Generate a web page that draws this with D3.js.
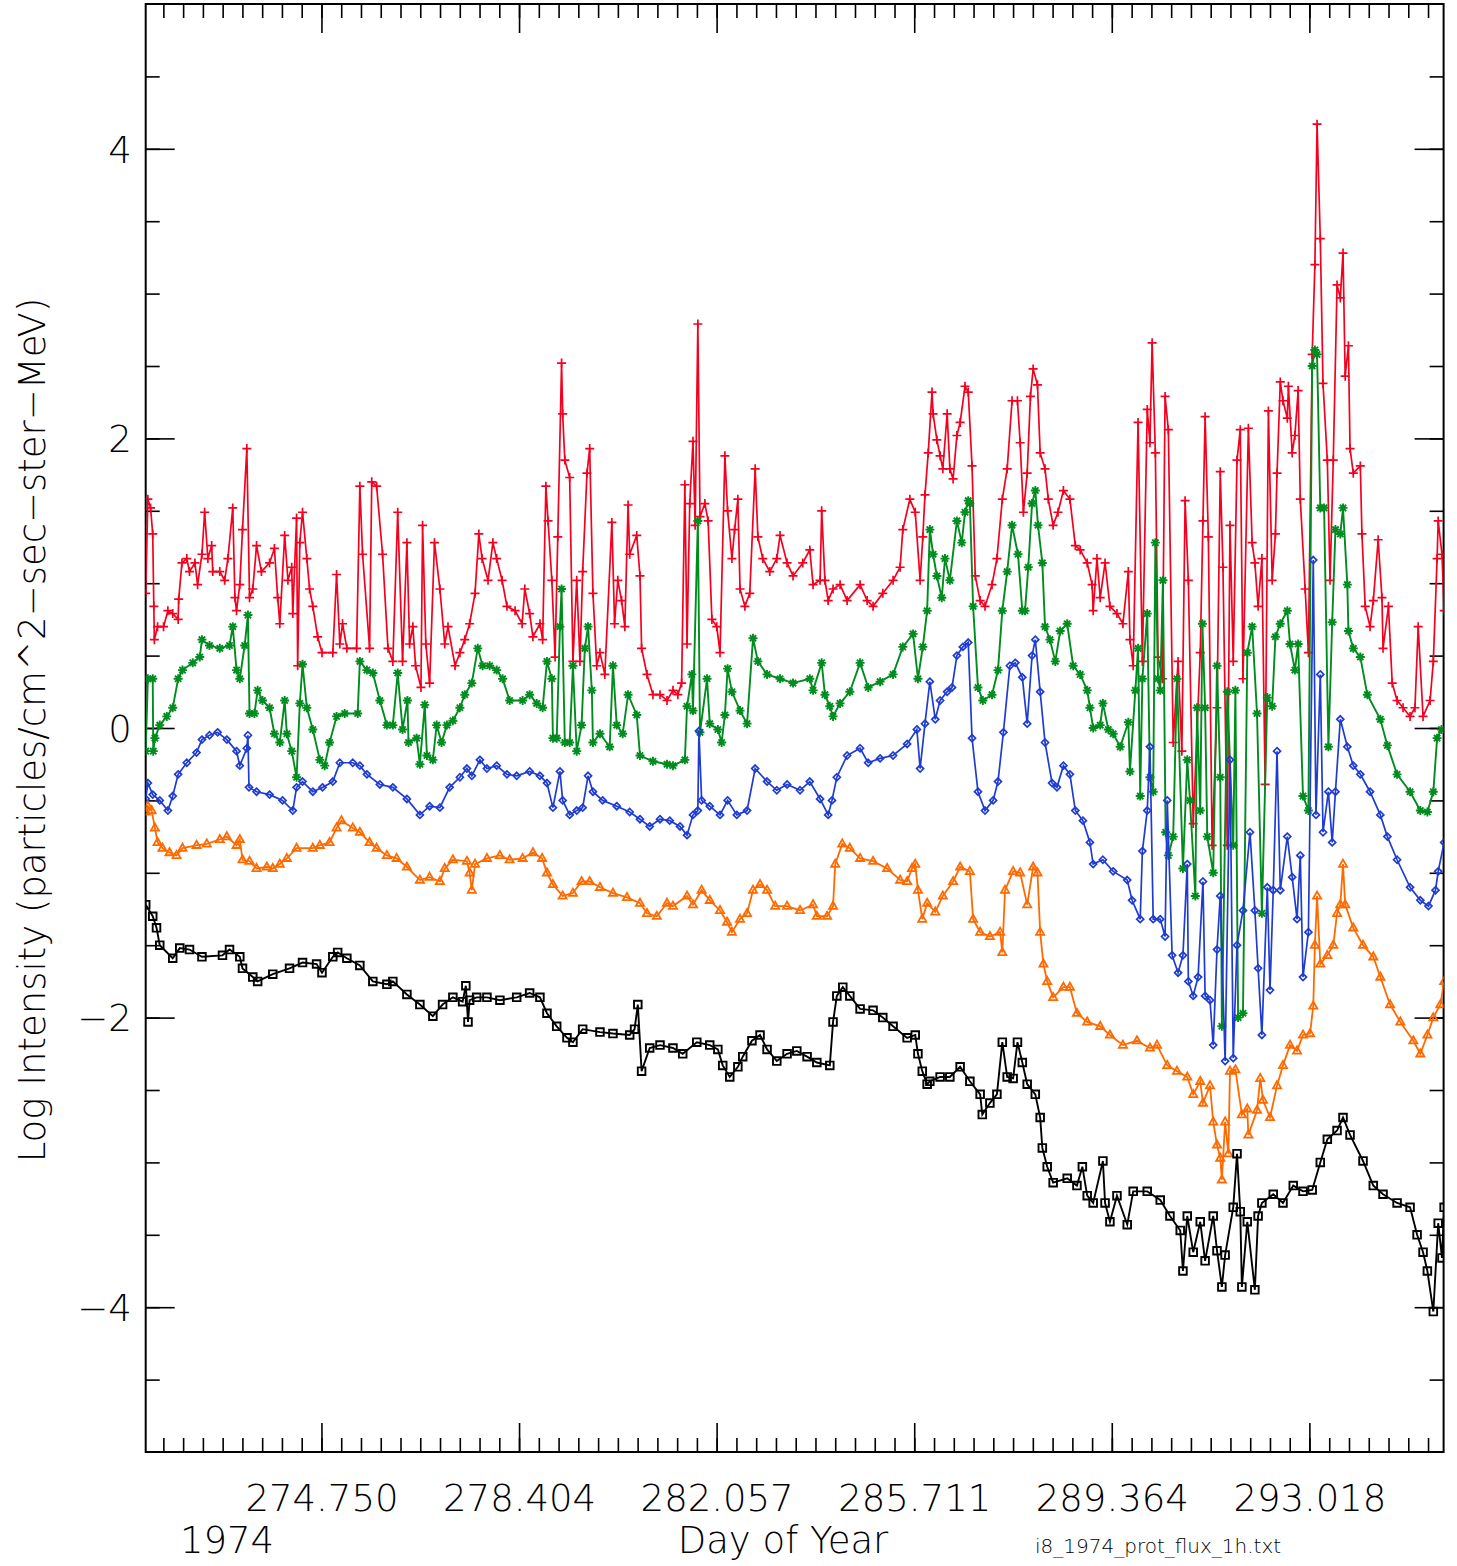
<!DOCTYPE html>
<html lang="en">
<head>
<meta charset="UTF-8">
<title>i8_1974_prot_flux_1h</title>
<style>
  body { margin: 0; background: #fff; }
  text { font-family: "DejaVu Sans", "Liberation Sans", sans-serif; font-weight: 200; fill: #000; }
</style>
</head>
<body>
<script src="https://cdn.jsdelivr.net/npm/d3@7"></script>
<script>
// [day of year, log intensity]
const redSeries = [[271.50,0.93],[271.54,1.58],[271.59,1.52],[271.63,1.34],[271.65,0.84],[271.66,0.61],[271.72,0.70],[271.83,0.70],[271.91,0.81],[272.00,0.79],[272.10,0.75],[272.11,0.89],[272.17,1.14],[272.26,1.17],[272.31,1.08],[272.41,1.14],[272.46,0.99],[272.54,1.20],[272.59,1.49],[272.65,1.17],[272.72,1.26],[272.74,1.08],[272.87,1.08],[272.96,1.02],[273.02,1.17],[273.11,1.52],[273.15,0.90],[273.18,0.81],[273.24,0.99],[273.29,1.37],[273.37,1.93],[273.42,0.90],[273.48,0.96],[273.55,1.26],[273.64,1.08],[273.79,1.14],[273.88,1.24],[273.94,0.90],[273.98,0.72],[274.07,1.33],[274.13,1.02],[274.20,1.11],[274.22,0.79],[274.29,1.45],[274.31,0.43],[274.35,1.28],[274.40,1.49],[274.48,1.17],[274.53,0.96],[274.59,0.84],[274.68,0.63],[274.76,0.52],[274.96,0.52],[275.03,1.06],[275.09,0.58],[275.14,0.72],[275.22,0.55],[275.40,0.55],[275.46,1.67],[275.51,1.20],[275.64,0.55],[275.68,1.70],[275.77,1.67],[275.88,1.20],[275.98,0.55],[276.07,0.46],[276.16,1.49],[276.25,0.46],[276.33,1.28],[276.38,0.58],[276.44,0.70],[276.49,0.43],[276.59,0.28],[276.62,1.40],[276.68,0.58],[276.75,0.31],[276.84,1.28],[276.94,0.96],[277.03,0.58],[277.09,0.70],[277.22,0.43],[277.31,0.52],[277.40,0.61],[277.49,0.72],[277.59,0.93],[277.66,1.34],[277.72,1.17],[277.83,1.02],[277.92,1.28],[277.99,1.17],[278.09,1.02],[278.18,0.84],[278.33,0.81],[278.46,0.72],[278.51,0.96],[278.60,0.79],[278.66,0.63],[278.79,0.72],[278.84,0.61],[278.90,1.67],[278.94,1.43],[279.01,1.02],[279.07,0.49],[279.12,1.32],[279.19,2.52],[279.21,2.17],[279.25,1.85],[279.34,1.73],[279.40,0.46],[279.47,1.02],[279.53,0.46],[279.58,1.08],[279.66,1.76],[279.71,1.93],[279.77,0.93],[279.84,0.43],[279.90,0.52],[279.99,0.37],[280.12,1.42],[280.17,0.72],[280.23,1.02],[280.30,0.88],[280.36,0.70],[280.42,1.54],[280.45,1.20],[280.58,1.33],[280.64,1.05],[280.67,0.55],[280.77,0.37],[280.88,0.23],[281.01,0.23],[281.14,0.19],[281.25,0.26],[281.34,0.23],[281.41,0.31],[281.47,1.68],[281.51,0.58],[281.56,1.55],[281.62,1.98],[281.66,1.40],[281.71,2.79],[281.75,1.46],[281.84,1.55],[281.90,1.43],[281.97,0.75],[282.06,0.70],[282.12,0.52],[282.21,1.88],[282.26,1.50],[282.34,1.17],[282.39,1.37],[282.45,1.58],[282.49,0.96],[282.58,0.84],[282.67,0.93],[282.77,1.79],[282.82,1.32],[282.91,1.17],[283.04,1.08],[283.17,1.17],[283.23,1.33],[283.36,1.14],[283.47,1.05],[283.65,1.14],[283.78,1.23],[283.84,0.99],[283.97,1.02],[284.00,1.50],[284.06,1.02],[284.12,0.88],[284.21,0.96],[284.34,0.99],[284.47,0.88],[284.71,0.99],[284.84,0.88],[284.95,0.84],[285.13,0.93],[285.32,1.02],[285.45,1.11],[285.50,1.37],[285.63,1.58],[285.73,1.49],[285.82,1.02],[285.87,1.32],[285.91,1.61],[285.97,1.90],[286.04,2.32],[286.06,2.17],[286.13,1.99],[286.19,1.88],[286.24,1.79],[286.32,2.17],[286.37,1.79],[286.43,1.72],[286.50,2.02],[286.56,2.11],[286.65,2.36],[286.71,2.32],[286.78,1.81],[286.84,1.05],[286.93,0.88],[287.02,0.84],[287.15,0.99],[287.24,1.17],[287.34,1.58],[287.43,1.79],[287.52,2.26],[287.62,2.26],[287.67,1.97],[287.73,1.49],[287.80,1.76],[287.86,2.29],[287.91,2.48],[287.99,2.37],[288.04,1.90],[288.13,1.79],[288.19,1.58],[288.28,1.40],[288.37,1.49],[288.47,1.64],[288.59,1.58],[288.69,1.26],[288.78,1.23],[288.91,1.14],[289.00,0.99],[289.02,0.81],[289.09,1.17],[289.15,0.90],[289.24,1.14],[289.33,0.84],[289.46,0.79],[289.57,0.72],[289.67,1.08],[289.70,0.61],[289.76,0.43],[289.85,2.11],[289.93,0.46],[290.02,2.20],[290.07,1.97],[290.11,2.66],[290.17,1.90],[290.22,0.49],[290.30,0.34],[290.35,2.29],[290.41,2.06],[290.50,-0.10],[290.59,0.46],[290.66,-0.16],[290.72,1.57],[290.78,1.02],[290.87,-0.66],[291.00,0.52],[291.05,1.43],[291.09,2.15],[291.15,1.32],[291.22,-0.81],[291.31,0.14],[291.37,1.77],[291.42,1.11],[291.50,-0.81],[291.55,1.40],[291.61,0.46],[291.68,1.85],[291.74,2.06],[291.79,0.34],[291.89,2.07],[291.96,1.28],[292.01,1.14],[292.07,0.84],[292.14,1.17],[292.20,-0.39],[292.26,2.19],[292.33,1.02],[292.39,1.34],[292.42,1.76],[292.48,2.39],[292.53,2.26],[292.61,2.14],[292.63,2.36],[292.70,1.90],[292.75,2.02],[292.81,2.33],[292.85,1.58],[292.94,0.96],[293.00,0.52],[293.07,2.58],[293.12,3.20],[293.16,4.17],[293.22,3.38],[293.27,2.38],[293.35,1.85],[293.40,1.02],[293.46,1.85],[293.53,3.06],[293.59,2.97],[293.64,3.28],[293.68,2.43],[293.74,2.64],[293.77,1.93],[293.83,1.76],[293.96,1.81],[293.99,1.34],[294.05,0.84],[294.14,0.70],[294.20,0.88],[294.29,1.30],[294.36,0.90],[294.38,0.55],[294.48,0.84],[294.55,0.31],[294.64,0.19],[294.75,0.14],[294.88,0.08],[294.97,0.14],[295.03,0.70],[295.12,0.08],[295.25,0.19],[295.31,0.46],[295.38,1.17],[295.40,1.43],[295.47,1.20],[295.51,0.81]];

const greenSeries = [[271.50,-0.16],[271.54,0.34],[271.63,0.34],[271.64,-0.16],[271.67,-0.07],[271.76,0.02],[271.89,0.08],[272.00,0.14],[272.10,0.34],[272.18,0.40],[272.37,0.45],[272.50,0.49],[272.54,0.61],[272.68,0.57],[272.87,0.55],[273.05,0.57],[273.11,0.70],[273.18,0.40],[273.24,0.34],[273.33,0.57],[273.39,0.78],[273.42,0.10],[273.51,0.10],[273.57,0.26],[273.66,0.19],[273.79,0.14],[273.88,-0.04],[273.98,-0.10],[274.07,0.19],[274.11,-0.04],[274.20,-0.16],[274.29,-0.34],[274.35,0.17],[274.40,0.44],[274.48,0.14],[274.59,-0.01],[274.72,-0.22],[274.81,-0.26],[274.90,-0.10],[275.03,0.08],[275.18,0.10],[275.42,0.10],[275.46,0.46],[275.59,0.40],[275.70,0.38],[275.83,0.19],[275.96,0.02],[276.07,0.02],[276.16,0.38],[276.25,-0.01],[276.34,0.19],[276.36,-0.10],[276.51,-0.07],[276.57,-0.25],[276.66,0.16],[276.70,-0.19],[276.81,-0.22],[276.88,0.02],[276.97,-0.10],[277.07,0.02],[277.18,0.05],[277.31,0.14],[277.40,0.23],[277.53,0.31],[277.64,0.55],[277.73,0.43],[277.86,0.43],[277.99,0.40],[278.10,0.34],[278.23,0.19],[278.47,0.19],[278.60,0.23],[278.73,0.17],[278.84,0.14],[278.92,0.46],[279.01,0.34],[279.03,-0.07],[279.10,-0.07],[279.16,0.70],[279.19,0.96],[279.25,-0.10],[279.34,-0.10],[279.40,0.43],[279.47,-0.16],[279.56,0.02],[279.62,0.55],[279.68,0.70],[279.75,0.26],[279.77,-0.10],[279.90,-0.04],[280.08,-0.13],[280.14,0.43],[280.21,0.02],[280.32,-0.04],[280.42,0.23],[280.58,0.09],[280.64,-0.19],[280.88,-0.23],[281.14,-0.25],[281.25,-0.26],[281.47,-0.22],[281.51,0.15],[281.60,0.37],[281.62,0.12],[281.71,1.43],[281.75,-0.03],[281.88,0.34],[281.93,0.03],[282.08,-0.01],[282.15,-0.10],[282.21,0.09],[282.26,0.41],[282.34,0.25],[282.49,0.12],[282.62,0.03],[282.73,0.62],[282.82,0.46],[282.99,0.37],[283.23,0.34],[283.47,0.31],[283.78,0.34],[283.84,0.26],[284.00,0.45],[284.06,0.23],[284.15,0.15],[284.21,0.08],[284.34,0.17],[284.52,0.25],[284.71,0.45],[284.86,0.28],[285.08,0.32],[285.32,0.37],[285.50,0.56],[285.69,0.65],[285.78,0.34],[285.87,0.56],[285.95,0.81],[286.00,1.37],[286.06,1.20],[286.13,1.05],[286.22,0.90],[286.28,1.17],[286.37,1.02],[286.50,1.43],[286.59,1.28],[286.65,1.49],[286.71,1.57],[286.74,1.55],[286.80,0.84],[286.89,0.28],[286.98,0.19],[287.15,0.23],[287.26,0.40],[287.34,0.81],[287.43,1.08],[287.52,1.40],[287.63,1.20],[287.71,0.81],[287.76,0.81],[287.82,1.11],[287.89,1.55],[287.95,1.64],[288.00,1.40],[288.08,1.14],[288.13,0.70],[288.22,0.61],[288.32,0.46],[288.41,0.67],[288.54,0.72],[288.65,0.43],[288.78,0.37],[288.91,0.26],[288.96,0.14],[289.02,0.00],[289.15,0.02],[289.20,0.17],[289.30,-0.01],[289.39,-0.04],[289.52,-0.13],[289.67,0.04],[289.70,-0.30],[289.80,0.26],[289.85,0.55],[289.89,-0.47],[289.93,0.34],[290.02,0.79],[290.07,-0.34],[290.13,-0.44],[290.17,1.28],[290.22,0.34],[290.26,0.26],[290.31,1.02],[290.36,-0.72],[290.41,-0.88],[290.50,-0.75],[290.57,0.34],[290.68,-0.97],[290.76,-0.22],[290.81,-0.50],[290.91,-1.16],[290.94,0.14],[291.00,-0.57],[291.04,0.72],[291.09,0.14],[291.13,-0.75],[291.24,-1.00],[291.31,0.43],[291.37,-0.34],[291.40,-2.06],[291.50,0.25],[291.61,-0.81],[291.65,0.26],[291.70,-2.00],[291.79,-1.97],[291.87,0.52],[291.96,0.70],[292.05,0.10],[292.14,-1.28],[292.24,0.21],[292.33,0.15],[292.39,0.63],[292.48,0.72],[292.61,0.81],[292.66,0.58],[292.75,0.40],[292.81,0.58],[292.90,-0.47],[293.00,-0.57],[293.07,2.50],[293.12,2.61],[293.16,2.58],[293.22,1.52],[293.29,1.52],[293.37,-0.13],[293.44,0.73],[293.50,1.37],[293.59,1.34],[293.64,1.52],[293.72,0.99],[293.74,0.67],[293.83,0.55],[293.96,0.49],[294.09,0.23],[294.33,0.06],[294.46,-0.12],[294.64,-0.32],[294.88,-0.44],[295.07,-0.57],[295.20,-0.58],[295.31,-0.44],[295.38,-0.07],[295.46,-0.01]];

const blueSeries = [[271.50,-0.49],[271.54,-0.38],[271.63,-0.46],[271.76,-0.50],[271.91,-0.57],[272.00,-0.47],[272.10,-0.32],[272.26,-0.24],[272.44,-0.17],[272.54,-0.08],[272.68,-0.05],[272.83,-0.03],[273.00,-0.08],[273.18,-0.16],[273.24,-0.26],[273.37,-0.14],[273.39,-0.05],[273.41,-0.41],[273.55,-0.44],[273.79,-0.46],[274.03,-0.50],[274.22,-0.57],[274.29,-0.41],[274.40,-0.37],[274.59,-0.44],[274.77,-0.41],[274.96,-0.37],[275.09,-0.24],[275.33,-0.24],[275.46,-0.26],[275.59,-0.32],[275.83,-0.39],[276.07,-0.41],[276.33,-0.49],[276.57,-0.60],[276.75,-0.54],[276.94,-0.55],[277.12,-0.41],[277.31,-0.34],[277.44,-0.28],[277.53,-0.33],[277.68,-0.22],[277.81,-0.28],[277.99,-0.26],[278.18,-0.32],[278.36,-0.33],[278.60,-0.30],[278.79,-0.33],[278.92,-0.38],[279.03,-0.55],[279.16,-0.30],[279.21,-0.50],[279.34,-0.60],[279.47,-0.57],[279.58,-0.55],[279.68,-0.33],[279.77,-0.44],[279.95,-0.50],[280.21,-0.54],[280.45,-0.58],[280.64,-0.63],[280.82,-0.68],[281.01,-0.63],[281.19,-0.64],[281.38,-0.68],[281.51,-0.74],[281.62,-0.60],[281.71,-0.57],[281.73,-0.02],[281.78,-0.50],[281.93,-0.54],[282.12,-0.60],[282.26,-0.50],[282.43,-0.60],[282.62,-0.57],[282.77,-0.28],[282.99,-0.37],[283.17,-0.43],[283.36,-0.39],[283.60,-0.43],[283.78,-0.37],[283.97,-0.49],[284.12,-0.60],[284.19,-0.50],[284.28,-0.34],[284.47,-0.19],[284.71,-0.14],[284.86,-0.24],[285.08,-0.21],[285.32,-0.19],[285.58,-0.11],[285.76,-0.01],[285.82,-0.28],[285.91,0.03],[286.00,0.32],[286.10,0.06],[286.19,0.19],[286.32,0.25],[286.41,0.28],[286.50,0.50],[286.61,0.56],[286.71,0.59],[286.78,-0.07],[286.89,-0.44],[287.02,-0.57],[287.17,-0.50],[287.26,-0.37],[287.36,-0.03],[287.48,0.43],[287.58,0.45],[287.71,0.35],[287.80,0.03],[287.89,0.50],[287.95,0.61],[288.04,0.25],[288.13,-0.10],[288.26,-0.38],[288.35,-0.41],[288.47,-0.26],[288.59,-0.32],[288.69,-0.57],[288.83,-0.64],[288.96,-0.79],[289.02,-0.94],[289.20,-0.91],[289.39,-0.99],[289.65,-1.05],[289.74,-1.19],[289.89,-1.32],[289.93,-0.85],[290.02,-0.57],[290.07,-0.13],[290.13,-1.32],[290.26,-1.32],[290.35,-1.44],[290.39,-0.50],[290.48,-1.57],[290.59,-1.69],[290.68,-1.57],[290.76,-0.94],[290.78,-1.75],[290.87,-1.85],[290.96,-1.72],[291.05,-1.06],[291.09,-1.85],[291.18,-1.88],[291.24,-2.19],[291.31,-1.53],[291.37,-1.16],[291.46,-2.30],[291.55,-0.22],[291.61,-2.28],[291.68,-1.50],[291.79,-1.26],[291.92,-0.72],[292.01,-1.26],[292.07,-1.66],[292.14,-2.12],[292.24,-1.10],[292.29,-1.81],[292.35,-1.12],[292.42,-0.16],[292.48,-1.12],[292.61,-0.75],[292.70,-1.03],[292.79,-1.32],[292.85,-0.88],[292.90,-1.72],[293.00,-1.41],[293.09,1.16],[293.14,-0.60],[293.22,0.37],[293.27,-0.72],[293.37,-0.44],[293.44,-0.79],[293.50,-0.44],[293.59,0.06],[293.72,-0.13],[293.83,-0.26],[293.96,-0.32],[294.14,-0.44],[294.33,-0.60],[294.46,-0.75],[294.64,-0.91],[294.88,-1.10],[295.07,-1.19],[295.22,-1.23],[295.35,-1.12],[295.40,-0.99],[295.51,-0.79]];

const orangeSeries = [[271.50,-0.58],[271.54,-0.54],[271.61,-0.57],[271.67,-0.69],[271.72,-0.79],[271.81,-0.83],[271.94,-0.86],[272.07,-0.88],[272.18,-0.83],[272.44,-0.81],[272.63,-0.80],[272.87,-0.77],[273.00,-0.75],[273.18,-0.81],[273.24,-0.77],[273.29,-0.91],[273.42,-0.92],[273.55,-0.97],[273.74,-0.96],[273.85,-0.97],[273.98,-0.94],[274.11,-0.90],[274.29,-0.83],[274.59,-0.83],[274.72,-0.81],[274.90,-0.79],[275.03,-0.69],[275.12,-0.64],[275.33,-0.69],[275.46,-0.72],[275.64,-0.79],[275.77,-0.83],[275.96,-0.88],[276.14,-0.90],[276.33,-0.96],[276.57,-1.05],[276.75,-1.03],[276.94,-1.06],[277.03,-0.97],[277.18,-0.91],[277.44,-0.92],[277.49,-1.00],[277.53,-1.12],[277.59,-0.94],[277.81,-0.90],[278.05,-0.88],[278.23,-0.91],[278.47,-0.90],[278.66,-0.86],[278.83,-0.90],[278.92,-1.00],[279.03,-1.08],[279.21,-1.16],[279.40,-1.14],[279.56,-1.06],[279.71,-1.06],[279.90,-1.10],[280.14,-1.14],[280.40,-1.17],[280.64,-1.21],[280.77,-1.28],[280.95,-1.30],[281.14,-1.21],[281.25,-1.23],[281.51,-1.16],[281.62,-1.22],[281.78,-1.12],[281.93,-1.19],[282.12,-1.26],[282.25,-1.34],[282.34,-1.41],[282.49,-1.32],[282.62,-1.28],[282.73,-1.12],[282.86,-1.08],[282.99,-1.12],[283.14,-1.23],[283.36,-1.23],[283.60,-1.26],[283.84,-1.22],[283.91,-1.30],[284.10,-1.30],[284.21,-1.23],[284.25,-0.94],[284.38,-0.80],[284.52,-0.83],[284.71,-0.90],[284.95,-0.92],[285.21,-0.97],[285.45,-1.05],[285.58,-1.06],[285.67,-0.97],[285.73,-0.94],[285.78,-1.12],[285.86,-1.32],[285.95,-1.21],[286.10,-1.27],[286.24,-1.16],[286.43,-1.06],[286.56,-0.96],[286.74,-0.99],[286.80,-1.32],[286.93,-1.41],[287.11,-1.44],[287.30,-1.41],[287.34,-1.55],[287.39,-1.12],[287.54,-0.99],[287.67,-1.00],[287.80,-1.22],[287.91,-0.96],[287.99,-1.00],[288.04,-1.41],[288.10,-1.63],[288.17,-1.75],[288.28,-1.86],[288.47,-1.79],[288.59,-1.79],[288.72,-1.97],[288.91,-2.03],[289.15,-2.06],[289.33,-2.12],[289.57,-2.19],[289.83,-2.16],[290.07,-2.21],[290.20,-2.19],[290.39,-2.33],[290.57,-2.37],[290.76,-2.41],[290.87,-2.53],[291.00,-2.44],[291.05,-2.59],[291.18,-2.47],[291.24,-2.72],[291.31,-2.88],[291.37,-2.97],[291.40,-3.12],[291.46,-2.72],[291.52,-2.94],[291.55,-2.37],[291.65,-2.36],[291.77,-2.67],[291.87,-2.63],[291.89,-2.81],[292.05,-2.64],[292.11,-2.42],[292.16,-2.57],[292.29,-2.69],[292.42,-2.47],[292.53,-2.33],[292.66,-2.19],[292.79,-2.23],[292.90,-2.12],[293.03,-2.11],[293.09,-1.92],[293.12,-1.50],[293.16,-1.16],[293.22,-1.63],[293.35,-1.57],[293.46,-1.50],[293.53,-1.28],[293.59,-1.22],[293.64,-0.94],[293.68,-1.22],[293.83,-1.38],[294.01,-1.50],[294.20,-1.58],[294.33,-1.72],[294.51,-1.91],[294.70,-2.03],[294.94,-2.16],[295.07,-2.25],[295.20,-2.12],[295.31,-2.00],[295.44,-1.91],[295.51,-1.75]];

const blackSeries = [[271.50,-1.22],[271.63,-1.30],[271.70,-1.38],[271.76,-1.50],[272.00,-1.59],[272.13,-1.52],[272.31,-1.53],[272.54,-1.58],[272.92,-1.57],[273.05,-1.53],[273.24,-1.58],[273.29,-1.66],[273.48,-1.72],[273.57,-1.75],[273.85,-1.70],[274.16,-1.66],[274.40,-1.62],[274.66,-1.63],[274.76,-1.69],[274.96,-1.58],[275.05,-1.55],[275.22,-1.59],[275.46,-1.64],[275.70,-1.75],[275.96,-1.77],[276.07,-1.75],[276.33,-1.84],[276.57,-1.91],[276.81,-1.99],[276.99,-1.91],[277.18,-1.86],[277.36,-1.89],[277.42,-1.78],[277.46,-2.03],[277.49,-1.88],[277.62,-1.86],[277.81,-1.86],[278.05,-1.88],[278.36,-1.86],[278.60,-1.83],[278.79,-1.86],[278.92,-1.97],[279.10,-2.06],[279.29,-2.14],[279.40,-2.17],[279.58,-2.08],[279.90,-2.10],[280.14,-2.11],[280.45,-2.12],[280.54,-2.08],[280.60,-1.91],[280.67,-2.37],[280.82,-2.21],[281.01,-2.19],[281.25,-2.21],[281.43,-2.25],[281.69,-2.17],[281.93,-2.19],[282.08,-2.22],[282.17,-2.33],[282.30,-2.41],[282.45,-2.34],[282.54,-2.27],[282.71,-2.16],[282.86,-2.12],[282.99,-2.22],[283.17,-2.30],[283.36,-2.25],[283.54,-2.23],[283.73,-2.27],[283.91,-2.31],[284.15,-2.33],[284.21,-2.03],[284.28,-1.85],[284.39,-1.79],[284.52,-1.85],[284.71,-1.94],[284.95,-1.95],[285.13,-2.00],[285.32,-2.06],[285.58,-2.14],[285.73,-2.12],[285.78,-2.25],[285.86,-2.37],[285.95,-2.46],[286.00,-2.44],[286.19,-2.41],[286.37,-2.41],[286.56,-2.34],[286.74,-2.44],[286.93,-2.53],[286.97,-2.67],[287.11,-2.59],[287.24,-2.53],[287.34,-2.17],[287.43,-2.41],[287.54,-2.42],[287.62,-2.17],[287.71,-2.31],[287.80,-2.46],[287.95,-2.53],[288.04,-2.69],[288.08,-2.90],[288.17,-3.03],[288.28,-3.14],[288.54,-3.11],[288.72,-3.16],[288.82,-3.03],[288.91,-3.23],[289.02,-3.28],[289.20,-2.99],[289.24,-3.28],[289.33,-3.41],[289.46,-3.23],[289.65,-3.43],[289.76,-3.20],[290.02,-3.20],[290.26,-3.26],[290.44,-3.37],[290.63,-3.47],[290.68,-3.75],[290.76,-3.37],[290.87,-3.62],[291.00,-3.41],[291.09,-3.68],[291.24,-3.37],[291.31,-3.61],[291.40,-3.86],[291.46,-3.64],[291.61,-3.31],[291.68,-2.94],[291.74,-3.34],[291.77,-3.86],[291.87,-3.41],[292.01,-3.88],[292.07,-3.37],[292.14,-3.28],[292.35,-3.22],[292.53,-3.28],[292.72,-3.16],[292.90,-3.20],[293.07,-3.19],[293.22,-3.00],[293.35,-2.84],[293.53,-2.78],[293.64,-2.69],[293.77,-2.81],[294.01,-2.99],[294.20,-3.16],[294.38,-3.22],[294.64,-3.28],[294.88,-3.31],[295.01,-3.50],[295.12,-3.62],[295.20,-3.75],[295.31,-4.03],[295.40,-3.42],[295.47,-3.66],[295.51,-3.31]];

const xDomain = [271.5, 295.5];
const yDomain = [-5, 5];
const xMajorTicks = [274.750, 278.404, 282.057, 285.711, 289.364, 293.018];
const xTickLabels = ["274.750", "278.404", "282.057", "285.711", "289.364", "293.018"];
const yMajorTicks = [-4, -2, 0, 2, 4];
const yTitle = "Log Intensity (particles/cm^2\u2212sec\u2212ster\u2212MeV)";
const xTitle = "Day of Year";
const yearLabel = "1974";
const fileLabel = "i8_1974_prot_flux_1h.txt";

const W = 1457, H = 1566;
const L = 145.7, R = 1443.6, T = 4, B = 1452;

const svg = d3.select("body").append("svg").attr("width", W).attr("height", H);

const x = d3.scaleLinear().domain(xDomain).range([L, R]);
const y = d3.scaleLinear().domain(yDomain).range([B, T]);

// minor ticks: ten per major interval on x, every 0.5 on y
const xStep = (xMajorTicks[1] - xMajorTicks[0]) / 10;
const xMinor = d3.range(-40, 100).map(k => xMajorTicks[0] + k * xStep).filter(v => v > xDomain[0] && v < xDomain[1]);
const yMinor = d3.range(-10, 11).map(k => k * 0.5).filter(v => v > yDomain[0] && v < yDomain[1]);

function axisG(axis, tx, ty) {
    const g = svg.append("g").attr("transform", "translate(" + tx + "," + ty + ")").call(axis);
    g.select(".domain").remove();
    g.selectAll("line").attr("stroke", "#000").attr("stroke-width", 1.6);
    return g;
}

axisG(d3.axisBottom(x).tickValues(xMinor).tickSize(-14).tickFormat(""), 0, B);
axisG(d3.axisTop(x).tickValues(xMinor).tickSize(-14).tickFormat(""), 0, T);
axisG(d3.axisTop(x).tickValues(xMajorTicks).tickSize(-29).tickFormat(""), 0, T);
const xb = axisG(d3.axisBottom(x).tickValues(xMajorTicks).tickSize(-29).tickPadding(33)
    .tickFormat((d, i) => xTickLabels[i]), 0, B);
xb.selectAll("text").attr("font-size", 37).attr("fill", "#000");

axisG(d3.axisLeft(y).tickValues(yMinor).tickSize(-14).tickFormat(""), L, 0);
axisG(d3.axisRight(y).tickValues(yMinor).tickSize(-14).tickFormat(""), R, 0);
axisG(d3.axisRight(y).tickValues(yMajorTicks).tickSize(-29).tickFormat(""), R, 0);
const yl = axisG(d3.axisLeft(y).tickValues(yMajorTicks).tickSize(-29).tickPadding(14)
    .tickFormat(d3.format("d")), L, 0);
yl.selectAll("text").attr("font-size", 37).attr("fill", "#000").attr("dy", "0.36em");

svg.append("rect").attr("x", L).attr("y", T).attr("width", R - L).attr("height", B - T)
    .attr("fill", "none").attr("stroke", "#000").attr("stroke-width", 2);

svg.append("defs").append("clipPath").attr("id", "plotclip")
    .append("rect").attr("x", L).attr("y", T).attr("width", R - L).attr("height", B - T);

// IDL-like plot symbols
const shapes = {
    plus: s => `M${-s},0H${s}M0,${-s}V${s}`,
    asterisk: s => `M${-s},0H${s}M0,${-s}V${s}M${-s * .7},${-s * .7}L${s * .7},${s * .7}M${-s * .7},${s * .7}L${s * .7},${-s * .7}`,
    diamond: s => `M0,${-s}L${s},0L0,${s}L${-s},0Z`,
    triangle: s => `M0,${-s}L${s * .9},${s * .6}L${-s * .9},${s * .6}Z`,
    square: s => `M${-s},${-s}H${s}V${s}H${-s}Z`
};

const series = [
    { data: redSeries, color: "#f5001e", shape: "plus", size: 4.5, width: 1.7 },
    { data: greenSeries, color: "#008c1e", shape: "asterisk", size: 4.5, width: 1.9 },
    { data: blueSeries, color: "#1e3cd2", shape: "diamond", size: 3.5, width: 1.7 },
    { data: orangeSeries, color: "#ff6a00", shape: "triangle", size: 4.5, width: 1.8 },
    { data: blackSeries, color: "#000000", shape: "square", size: 3.8, width: 1.9 }
];

const line = d3.line().x(d => x(d[0])).y(d => y(d[1]));
const plot = svg.append("g").attr("clip-path", "url(#plotclip)");

series.forEach(function (s) {
    const g = plot.append("g");
    g.append("path").datum(s.data)
        .attr("d", line).attr("fill", "none")
        .attr("stroke", s.color).attr("stroke-width", s.width);
    g.selectAll("path.sym").data(s.data).enter().append("path")
        .attr("class", "sym")
        .attr("transform", d => "translate(" + x(d[0]) + "," + y(d[1]) + ")")
        .attr("d", shapes[s.shape](s.size))
        .attr("fill", "none")
        .attr("stroke", s.color).attr("stroke-width", s.width);
});

svg.append("text").attr("transform", "translate(45,730) rotate(-90)")
    .attr("text-anchor", "middle").attr("font-size", 37).text(yTitle);
svg.append("text").attr("x", 180).attr("y", 1553).attr("font-size", 37).text(yearLabel);
svg.append("text").attr("x", 783).attr("y", 1553).attr("text-anchor", "middle").attr("font-size", 37).text(xTitle);
svg.append("text").attr("x", 1035).attr("y", 1553).attr("font-size", 20).text(fileLabel);
</script>
</body>
</html>
